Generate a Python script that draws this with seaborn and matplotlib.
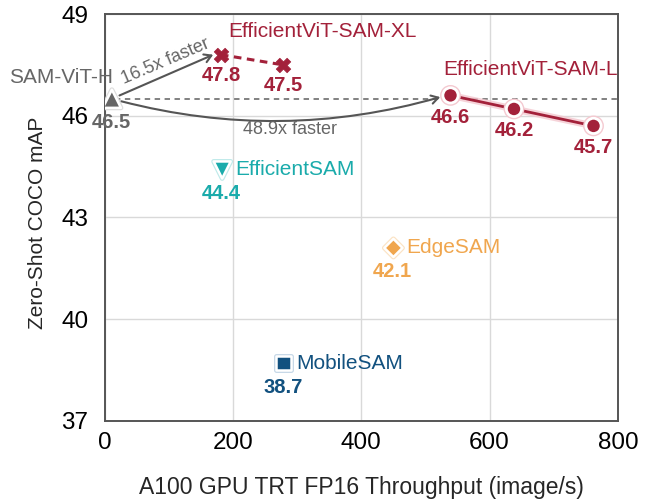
import matplotlib
matplotlib.use("Agg")
import matplotlib.pyplot as plt
import matplotlib.patheffects as pe
import seaborn as sns
import pandas as pd

# ---- data ----
sam_name = "SAM-ViT-H"
sam_tp = [11]
sam_map = [46.5]

xl_name = "EfficientViT-SAM-XL"
xl_tp = [181, 278]
xl_map = [47.8, 47.5]

l_name = "EfficientViT-SAM-L"
l_tp = [539, 638, 762]
l_map = [46.6, 46.2, 45.7]

other_names = ["EfficientSAM", "EdgeSAM", "MobileSAM"]
other_tp = [183, 450, 279]
other_map = [44.4, 42.1, 38.7]

speedup_xl = "16.5x faster"
speedup_l = "48.9x faster"

x_ticks = [0, 200, 400, 600, 800]
y_ticks = [37, 40, 43, 46, 49]

# ---- style ----
sns.set_style("whitegrid")
plt.rcParams["font.family"] = ["Liberation Sans", "DejaVu Sans"]

GRAY = "#666666"
RED = "#a3213a"
TEAL = "#1aabab"
ORANGE = "#f0a64e"
NAVY = "#12517f"
other_colors = [TEAL, ORANGE, NAVY]
other_glows = ["#bfeaea", "#fbe3c4", "#c3d6e6"]
other_markers = ["v", "D", "s"]
other_sizes = [150, 85, 110]

fig = plt.figure(figsize=(6.47, 5.01), dpi=100)
ax = fig.add_axes([0.162, 0.160, 0.793, 0.812])

ax.set_xlim(0, 800)
ax.set_ylim(37, 49)
ax.set_xticks(x_ticks)
ax.set_yticks(y_ticks)
ax.grid(True, color="#d9d9d9", linewidth=1.0)
for s in ax.spines.values():
    s.set_color("#555555")
    s.set_linewidth(1.4)
ax.tick_params(axis="both", labelsize=17.5, length=0, colors="black")
ax.tick_params(axis="x", pad=8)
ax.tick_params(axis="y", pad=12)
ax.set_xlabel("A100 GPU TRT FP16 Throughput (image/s)", fontsize=16.5, labelpad=16)
ax.set_ylabel("Zero-Shot COCO mAP", fontsize=15)
ax.yaxis.set_label_coords(-0.112, 0.488)

# reference dashed line at SAM level
ax.axhline(sam_map[0], color="#777777", linestyle=(0, (3, 2.5)), linewidth=1.3, zorder=1)

glow = [pe.Stroke(linewidth=5, foreground="#f4c9d0", alpha=0.8), pe.Normal()]

# EfficientViT-SAM-XL
df_xl = pd.DataFrame({"tp": xl_tp, "map": xl_map})
sns.lineplot(data=df_xl, x="tp", y="map", ax=ax, color=RED, linewidth=2.2,
             linestyle=(0, (2.5, 1.8)), zorder=3)
sns.scatterplot(data=df_xl, x="tp", y="map", ax=ax, color=RED, marker="X",
                s=110, edgecolor=RED, linewidth=0.5, zorder=4)

# EfficientViT-SAM-L
df_l = pd.DataFrame({"tp": l_tp, "map": l_map})
sns.lineplot(data=df_l, x="tp", y="map", ax=ax, color=RED, linewidth=2.0,
             zorder=3, path_effects=glow)
sns.scatterplot(data=df_l, x="tp", y="map", ax=ax, color=RED, marker="o",
                s=120, edgecolor="white", linewidth=2.0, zorder=4)
ax.collections[-1].set_path_effects([pe.Stroke(linewidth=4, foreground="#f4c9d0"), pe.Normal()])

# SAM-ViT-H
df_sam = pd.DataFrame({"tp": sam_tp, "map": sam_map})
sns.scatterplot(data=df_sam, x="tp", y="map", ax=ax, color=GRAY, marker="^",
                s=170, edgecolor="white", linewidth=1.8, zorder=5)
ax.collections[-1].set_path_effects([pe.Stroke(linewidth=3.5, foreground="#dddddd"), pe.Normal()])

# Other models
for n, t, m, c, g, mk, sz in zip(other_names, other_tp, other_map, other_colors,
                                 other_glows, other_markers, other_sizes):
    d = pd.DataFrame({"tp": [t], "map": [m]})
    sns.scatterplot(data=d, x="tp", y="map", ax=ax, color=c, marker=mk, s=sz,
                    edgecolor="white", linewidth=1.8, zorder=4)
    ax.collections[-1].set_path_effects([pe.Stroke(linewidth=3.5, foreground=g), pe.Normal()])
    ax.annotate(n, (t, m), xytext=(13, 0), textcoords="offset pixels",
                ha="left", va="center", fontsize=15, color=c)
    ax.annotate(f"{m:.1f}", (t, m), xytext=(-1, -24), textcoords="offset pixels",
                ha="center", va="center", fontsize=14.5, fontweight="bold", color=c)

# value labels
ax.annotate(f"{sam_map[0]:.1f}", (sam_tp[0], sam_map[0]), xytext=(0, -24),
            textcoords="offset pixels", ha="center", va="center", fontsize=14.5,
            fontweight="bold", color=GRAY, annotation_clip=False)
for t, m in zip(xl_tp, xl_map):
    ax.annotate(f"{m:.1f}", (t, m), xytext=(0, -21), textcoords="offset pixels",
                ha="center", va="center", fontsize=14.5, fontweight="bold", color=RED)
for t, m in zip(l_tp, l_map):
    ax.annotate(f"{m:.1f}", (t, m), xytext=(0, -22), textcoords="offset pixels",
                ha="center", va="center", fontsize=14.5, fontweight="bold", color=RED)

# model names
ax.annotate(sam_name, (sam_tp[0], sam_map[0]), xytext=(1, 21), textcoords="offset pixels",
            ha="right", va="center", fontsize=15, color=GRAY, annotation_clip=False)
ax.text(339, 48.47, xl_name, ha="center", va="center", fontsize=15, color=RED)
ax.text(664, 47.35, l_name, ha="center", va="center", fontsize=15, color=RED)

# speed-up arrows
ax.annotate("", xy=(xl_tp[0] - 12, xl_map[0]), xytext=(sam_tp[0], sam_map[0]),
            arrowprops=dict(arrowstyle="->,head_length=0.5,head_width=0.3",
                            color="#555555", lw=1.5, shrinkA=6, shrinkB=0),
            zorder=2)
ax.text(94, 47.6, speedup_xl, rotation=23, ha="center", va="center",
        fontsize=13, color=GRAY)
ax.annotate("", xy=(l_tp[0] - 16, l_map[0] - 0.05), xytext=(sam_tp[0], sam_map[0]),
            arrowprops=dict(arrowstyle="->,head_length=0.5,head_width=0.3",
                            color="#555555", lw=1.5, shrinkA=7, shrinkB=0,
                            connectionstyle="arc3,rad=0.14"),
            zorder=2)
ax.text(289, 45.6, speedup_l, ha="center", va="center", fontsize=13, color=GRAY)

ax.set_xlim(0, 800)
ax.set_ylim(37, 49)

fig.savefig("out.png", dpi=100)
